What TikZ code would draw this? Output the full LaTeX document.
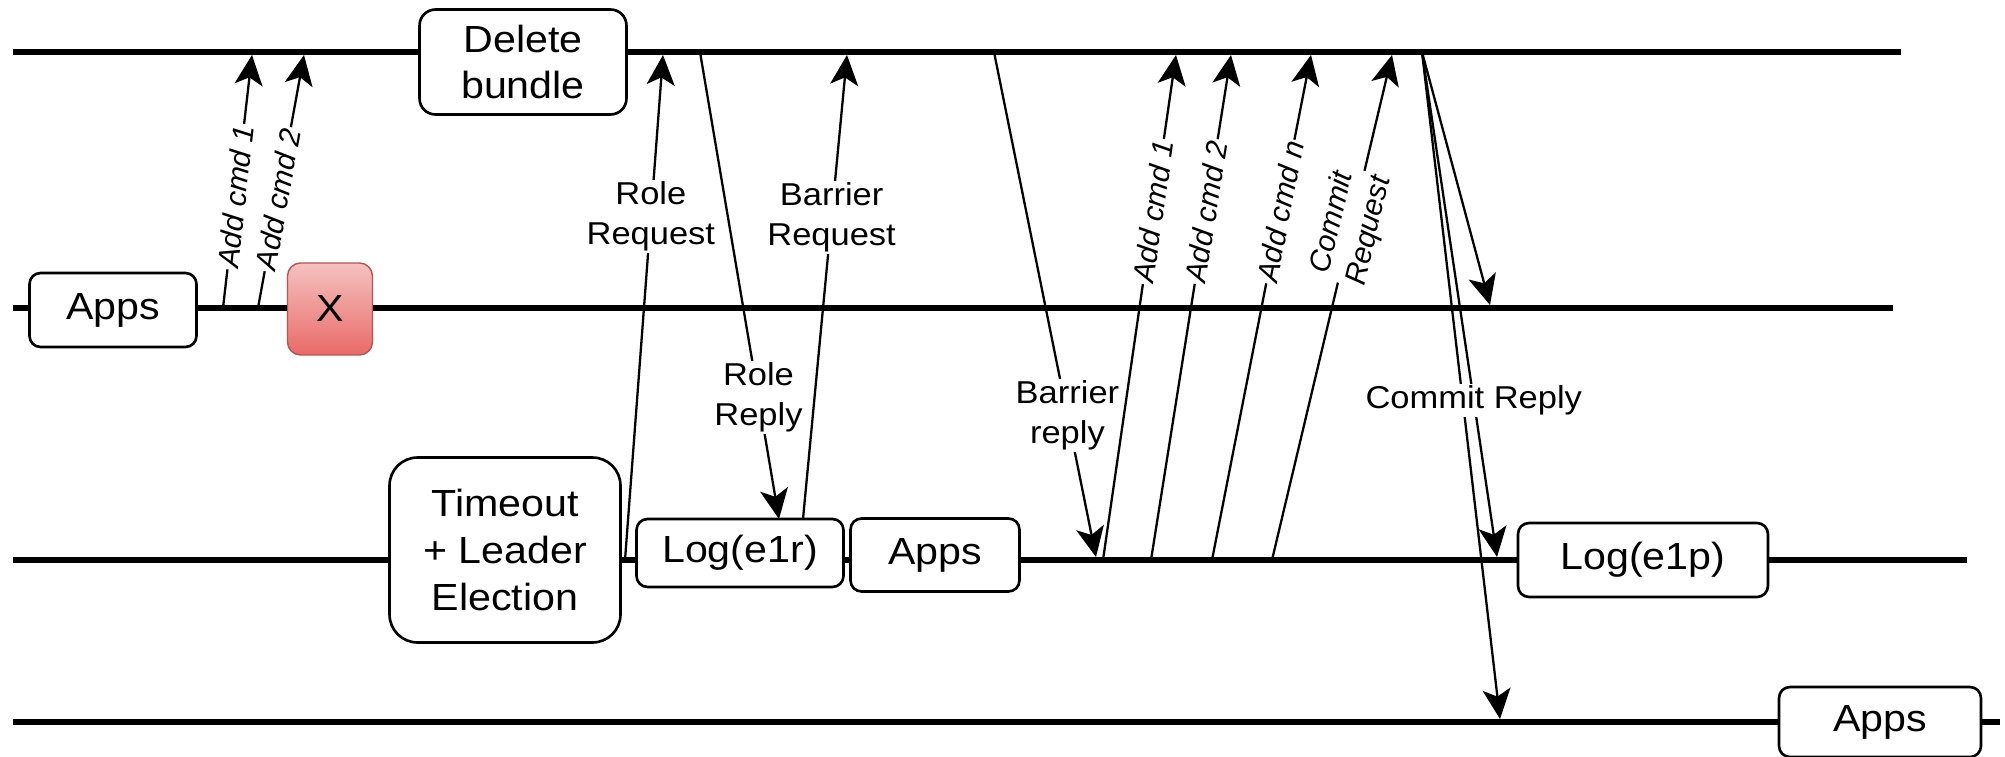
\documentclass[tikz,border=0pt]{standalone}
\usepackage{fontspec}
\setmainfont[FakeStretch=1.09]{Liberation Sans}
\newfontfamily\plainsans{Liberation Sans}
\usetikzlibrary{arrows.meta}

\definecolor{crashtop}{HTML}{F5C2C1}
\definecolor{crashbot}{HTML}{E96A66}
\definecolor{crashline}{HTML}{B85450}

\newcommand{\boxfont}{\fontsize{21.5pt}{26.7pt}\selectfont}
\newcommand{\lblfont}{\fontsize{18pt}{22.7pt}\selectfont}
\newcommand{\vlblfont}{\plainsans\itshape\fontsize{17pt}{21.5pt}\selectfont}

\begin{document}
\begin{tikzpicture}[x=0.02cm, y=-0.02cm,
    lifeline/.style={line width=3.6pt},
    box/.style={draw, line width=1.5pt, rounded corners=0.22cm, fill=white,
        align=center, font=\boxfont, inner sep=0pt},
    msg/.style={line width=1.3pt, -{Stealth[length=0.6cm, width=0.56cm, inset=0.15cm]}},
    lbl/.style={fill=white, align=center, font=\lblfont, inner sep=1pt},
    vlbl/.style={fill=white, sloped, align=center, font=\vlblfont, inner sep=1pt}]

    \useasboundingbox (0,0) rectangle (2005,757);

    % lifelines
    \coordinate (l1w) at (13,52);
    \coordinate (l1e) at (1901,52);
    \coordinate (l2w) at (13,308);
    \coordinate (l2e) at (1893,308);
    \coordinate (l3w) at (13,560);
    \coordinate (l3e) at (1967,560);
    \coordinate (l4w) at (13,722);
    \coordinate (l4e) at (2000,722);

    \draw[lifeline] (l1w) -- (l1e);
    \draw[lifeline] (l2w) -- (l2e);
    \draw[lifeline] (l3w) -- (l3e);
    \draw[lifeline] (l4w) -- (l4e);

    % boxes on the lifelines
    \node[box, rounded corners=0.32cm, minimum width=4.14cm, minimum height=2.1cm] (del) at (523,62) {Delete\\bundle};
    \node[box, minimum width=3.34cm, minimum height=1.48cm] (appsa) at (113,310) {Apps};
    \node[box, draw=crashline, line width=0.8pt, top color=crashtop, bottom color=crashbot,
        rounded corners=0.26cm, minimum width=1.7cm, minimum height=1.84cm] (crash) at (330,309) {X};
    \node[box, rounded corners=0.56cm, minimum width=4.62cm, minimum height=3.7cm] (timeout) at (505,550) {Timeout\\+ Leader\\Election};
    \node[box, minimum width=4.14cm, minimum height=1.36cm] (logr) at (740,553) {Log(e1r)};
    \node[box, minimum width=3.38cm, minimum height=1.46cm] (appsb) at (935,555) {Apps};
    \node[box, minimum width=5cm, minimum height=1.48cm] (logp) at (1643,560) {Log(e1p)};
    \node[box, minimum width=4.04cm, minimum height=1.4cm] (appsd) at (1880,722) {Apps};

    % message ends
    \coordinate (a1s) at (223,308);
    \coordinate (a1e) at (252,55);
    \coordinate (a2s) at (258,308);
    \coordinate (a2e) at (304,55);
    \coordinate (rqs) at (625,560);
    \coordinate (rqe) at (663,55);
    \coordinate (rps) at (700,52);
    \coordinate (rpe) at (779,519);
    \coordinate (brs) at (803,519);
    \coordinate (bre) at (847,55);
    \coordinate (bys) at (994,52);
    \coordinate (bye) at (1096,557);
    \coordinate (b1s) at (1103,560);
    \coordinate (b1e) at (1176,55);
    \coordinate (b2s) at (1151,560);
    \coordinate (b2e) at (1231,55);
    \coordinate (bns) at (1212,560);
    \coordinate (bne) at (1311,55);
    \coordinate (crs) at (1272,560);
    \coordinate (cre) at (1392,55);
    \coordinate (cps) at (1422,52);
    \coordinate (cp2) at (1490,305);
    \coordinate (cp3) at (1497,557);
    \coordinate (cp4) at (1500,719);

    % messages
    \draw[msg] (a1s) -- node[vlbl, pos=0.44] {Add cmd 1} (a1e);
    \draw[msg] (a2s) -- node[vlbl, pos=0.43] {Add cmd 2} (a2e);
    \draw[msg] (rqs) -- node[lbl, pos=0.68] {Role\\Request} (rqe);
    \draw[msg] (rps) -- node[lbl, pos=0.74] {Role\\Reply} (rpe);
    \draw[msg] (brs) -- node[lbl, pos=0.65] {Barrier\\Request} (bre);
    \draw[msg] (bys) -- node[lbl, pos=0.72] {Barrier\\reply} (bye);
    \draw[msg] (b1s) -- node[vlbl, pos=0.69] {Add cmd 1} (b1e);
    \draw[msg] (b2s) -- node[vlbl, pos=0.69] {Add cmd 2} (b2e);
    \draw[msg] (bns) -- node[vlbl, pos=0.69] {Add cmd n} (bne);
    \draw[msg] (crs) -- node[vlbl, pos=0.66] {Commit\\Request} (cre);
    \draw[msg] (cps) -- (cp4);
    \draw[msg] (cps) -- node[lbl, pos=0.69] {Commit Reply} (cp3);
    \draw[msg] (cps) -- (cp2);

\end{tikzpicture}
\end{document}
